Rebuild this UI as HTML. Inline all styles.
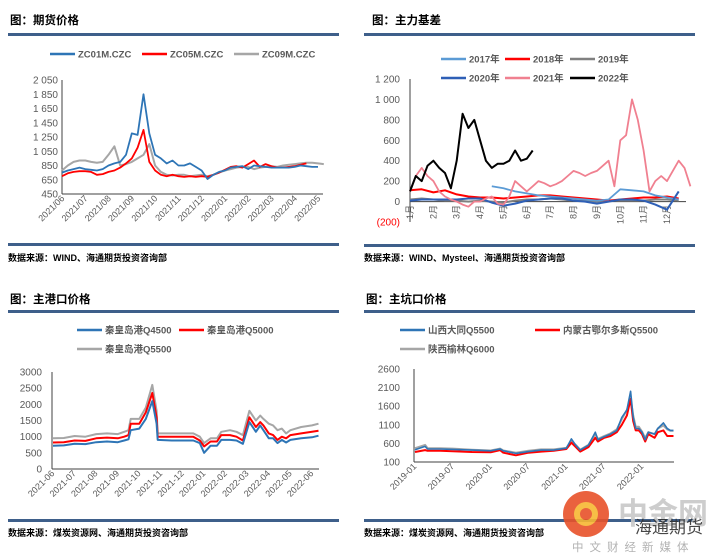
<!DOCTYPE html>
<html><head><meta charset="utf-8"><style>
html,body{margin:0;padding:0;background:#fff;}
svg{display:block;font-family:"Liberation Sans","Noto Sans CJK SC",sans-serif;}
.t{font-weight:bold;font-size:11.5px;fill:#000;font-family:"Liberation Sans","Noto Sans CJK SC",sans-serif;}
.s{font-weight:bold;font-size:9px;fill:#000;}
.lg{font-weight:bold;font-size:9.5px;fill:#595959;}
.tk{font-size:10px;fill:#595959;}
.xl{font-size:9px;fill:#595959;}
</style></head><body>
<svg id="c" width="724" height="558" viewBox="0 0 724 558">
<!-- panel titles and rules -->
<text class="t" x="10" y="24">图：期货价格</text>
<rect x="8" y="33" width="331" height="3" fill="#3e5f8a"/>
<rect x="8" y="243" width="331" height="3" fill="#3e5f8a"/>
<text class="s" x="8" y="261">数据来源：WIND、海通期货投资咨询部</text>

<text class="t" x="372" y="24">图：主力基差</text>
<rect x="364" y="33" width="331" height="3" fill="#3e5f8a"/>
<rect x="364" y="244" width="331" height="3" fill="#3e5f8a"/>
<text class="s" x="364" y="261">数据来源：WIND、Mysteel、海通期货投资咨询部</text>

<text class="t" x="10" y="303">图：主港口价格</text>
<rect x="8" y="310" width="331" height="3" fill="#3e5f8a"/>
<rect x="8" y="519" width="331" height="3" fill="#3e5f8a"/>
<text class="s" x="8" y="536">数据来源：煤炭资源网、海通期货投资咨询部</text>

<text class="t" x="366" y="303">图：主坑口价格</text>
<rect x="364" y="310" width="331" height="3" fill="#3e5f8a"/>
<rect x="364" y="519" width="331" height="3" fill="#3e5f8a"/>
<text class="s" x="364" y="536">数据来源：煤炭资源网、海通期货投资咨询部</text>
</svg>
<script>
// ---------- Panel 1 data ----------
const p1Ticks=["2 050","1 850","1 650","1 450","1 250","1 050","850","650","450"];
const p1TickVals=[2050,1850,1650,1450,1250,1050,850,650,450];
const p1XLabels=["2021/06","2021/07","2021/08","2021/09","2021/10","2021/11","2021/12","2022/01","2022/02","2022/03","2022/04","2022/05"];
const p1Names=["ZC01M.CZC","ZC05M.CZC","ZC09M.CZC"];
const p1Zc01=[750,780,800,820,800,790,780,800,850,880,900,1000,1300,1280,1850,1300,1000,950,880,920,850,850,880,830,780,660,720,760,780,820,830,840,800,850,840,830,820,820,820,820,830,850,840,830,830];
const p1Zc05=[700,740,760,770,770,760,720,730,760,780,820,880,950,1100,1350,900,780,720,700,720,700,690,700,690,700,690,720,750,790,830,840,820,870,920,830,870,840,820,820,830,840,860,880];
const p1Zc09=[780,850,900,920,920,900,890,900,1000,1120,850,870,900,950,1000,1150,850,760,720,710,720,720,700,710,720,700,720,750,780,800,820,830,830,800,820,830,840,830,850,860,870,880,890,890,880,870];
// ---------- Panel 2 data ----------
const p2Ticks=["1 200","1 000","800","600","400","200","0","(200)"];
const p2TickVals=[1200,1000,800,600,400,200,0,-200];
const p2Months=["1月","2月","3月","4月","5月","6月","7月","8月","9月","10月","11月","12月"];
const p2Names=["2017年","2018年","2019年","2020年","2021年","2022年"];
const y2017=[null,null,null,null,null,null,null,150,130,100,80,60,50,40,30,20,10,20,120,110,100,60,40,20];
const y2018=[110,120,90,110,70,50,40,40,30,40,50,60,60,50,40,30,20,10,20,30,40,40,50,30];
const y2019=[20,30,20,10,10,0,10,0,-10,10,20,20,30,20,10,10,0,10,10,10,10,20,20,10];
const y2020=[10,20,20,20,20,30,30,-10,-40,-20,10,20,30,30,10,0,-20,0,20,20,10,-30,-80,100];
const y2021=[100,250,330,250,200,100,50,20,0,-30,-50,0,0,30,50,-20,-30,50,200,150,100,150,200,180,150,170,200,250,300,280,250,280,300,350,400,150,600,650,1000,800,500,100,200,250,200,300,400,330,150];
const y2022=[100,250,200,350,400,330,280,130,400,860,720,800,600,400,330,370,370,400,500,400,420,500];
// ---------- Panel 3 data ----------
const p3Ticks=["3000","2500","2000","1500","1000","500","0"];
const p3TickVals=[3000,2500,2000,1500,1000,500,0];
const p3XLabels=["2021-06","2021-07","2021-08","2021-09","2021-10","2021-11","2021-12","2022-01","2022-02","2022-03","2022-04","2022-05","2022-06"];
const p3Names=["秦皇岛港Q4500","秦皇岛港Q5000","秦皇岛港Q5500"];
const p3Dates=[0,0.5,1,1.5,2,2.5,3,3.3,3.5,3.6,4,4.3,4.6,4.8,4.85,5.5,6,6.5,6.8,7,7.3,7.6,7.8,8.2,8.5,8.8,9.1,9.4,9.6,9.75,10,10.2,10.4,10.6,10.8,11,11.5,12,12.3];
const p3Q4500=[720,730,780,770,830,850,830,880,920,1200,1250,1550,2100,1400,900,880,880,880,800,500,720,720,900,900,880,780,1450,1150,1350,1200,950,950,800,900,820,900,950,980,1030];
const p3Q5000=[820,830,880,870,950,970,950,1000,1050,1400,1400,1750,2350,1600,1000,1000,1000,1000,880,700,850,850,1050,1050,1000,880,1600,1300,1450,1350,1100,1050,900,1000,950,1050,1100,1150,1180];
const p3Q5500=[950,960,1020,1000,1080,1100,1080,1150,1200,1550,1550,1900,2600,1800,1100,1100,1100,1100,1000,800,950,950,1150,1200,1150,1050,1800,1500,1650,1550,1400,1350,1200,1250,1100,1200,1300,1350,1400];
// ---------- Panel 4 data ----------
const p4Ticks=["2600","2100","1600","1100","600","100"];
const p4TickVals=[2600,2100,1600,1100,600,100];
const p4XLabels=["2019-01","2019-07","2020-01","2020-07","2021-01","2021-07","2022-01"];
const p4Names=["山西大同Q5500","内蒙古鄂尔多斯Q5500","陕西榆林Q6000"];
const p4Dates=[0,1.6,2,4,6,9,12,13.5,14,16,18,20,22,24,24.8,25.5,26.2,27.5,28.6,29,30,31,32,32.8,33.6,34.2,34.6,35,35.5,36,36.5,37,38,38.5,39.4,40,40.5,41];
const p4Datong=[430,520,450,450,440,420,400,450,400,330,380,420,420,470,720,550,420,550,900,700,780,850,950,1300,1500,2000,1300,1000,1000,900,700,900,850,1000,1150,1000,950,950];
const p4Ordos=[370,420,400,400,390,370,360,420,350,280,350,380,400,450,620,500,380,500,750,650,750,800,900,1100,1350,1800,1200,950,950,850,650,850,750,900,950,800,800,800];
const p4Yulin=[470,560,470,470,460,430,410,460,410,350,400,440,440,480,650,560,430,560,850,720,800,870,980,1250,1500,1800,1350,1050,1050,920,750,900,850,1000,1080,980,940,940];

const NS="http://www.w3.org/2000/svg";
const svg=document.getElementById('c');
function mk(tag,attrs,parent){const e=document.createElementNS(NS,tag);for(const k in attrs)e.setAttribute(k,attrs[k]);(parent||svg).appendChild(e);return e;}
function lin(d0,d1,r0,r1){return v=>r0+(v-d0)*(r1-r0)/(d1-d0);}
function path(xs,ys,sx,sy){let d="",pen=false;for(let i=0;i<ys.length;i++){if(ys[i]===null||ys[i]===undefined){pen=false;continue;}d+=(pen?"L":"M")+sx(xs[i]).toFixed(1)+" "+sy(ys[i]).toFixed(1);pen=true;}return d;}
function seq(n,step){const a=[];for(let i=0;i<n;i++)a.push(i*step);return a;}
function drawSeries(xs,ys,sx,sy,color,w,name){
  const p=mk('path',{d:path(xs,ys,sx,sy),fill:'none',stroke:color,'stroke-width':w,'stroke-linejoin':'round'});
  
  
}
function legend(x,y,color,label,name){
  const g=mk('g',{});
  
  
  mk('line',{x1:x,y1:y,x2:x+25,y2:y,stroke:color,'stroke-width':2.5},g);
  const t=mk('text',{x:x+28,y:y+3.5,class:'lg'},g);t.textContent=label;
}
function yTicks(vals,labels,sy,x,name,colors){
  vals.forEach((v,i)=>{const t=mk('text',{x:x,y:sy(v)+3.5,'text-anchor':'end',class:'tk',fill:(colors&&colors[i])||'#595959'});
    
    
    if(colors&&colors[i])t.style.fill=colors[i];
    t.textContent=labels[i];});
}
function xRot(labels,sx,y,name,dx){
  labels.forEach((l,i)=>{const x=sx(i);const t=mk('text',{x:x+(dx||0),y:y,'text-anchor':'end',class:'xl',transform:`rotate(-45 ${x+(dx||0)} ${y})`});
    
    
    t.textContent=l;});
}
function axes(x0,x1,y0,y1,name){
  const a=mk('path',{d:`M${x0} ${y0}L${x0} ${y1}M${x0} ${y1}L${x1} ${y1}`,stroke:'#404040','stroke-width':1,fill:'none'});
  
  
}
// ---- Panel 1 ----
{const sx=lin(0,11,62,318),sy=lin(450,2050,194,80);
 axes(62,323,80,194,'futures-axes');
 yTicks(p1TickVals,p1Ticks,sy,58,'futures-y-tick');
 xRot(p1XLabels,i=>sx(i),199,'futures-x-tick',3);
 drawSeries(seq(p1Zc09.length,0.25),p1Zc09,sx,sy,'#a6a6a6',2,'zc09-line');
 drawSeries(seq(p1Zc05.length,0.25),p1Zc05,sx,sy,'#ff0000',1.8,'zc05-line');
 drawSeries(seq(p1Zc01.length,0.25),p1Zc01,sx,sy,'#2e75b6',1.8,'zc01-line');
 legend(50,54,'#2e75b6',p1Names[0],'legend-zc01');
 legend(142,54,'#ff0000',p1Names[1],'legend-zc05');
 legend(234,54,'#a6a6a6',p1Names[2],'legend-zc09');
}
// ---- Panel 2 ----
{const sx=lin(0,11,410,667),sy=lin(-200,1200,222,79);
 const a=mk('path',{d:`M410 79L410 222M410 ${sy(0)}L686 ${sy(0)}`,stroke:'#404040','stroke-width':1,fill:'none'});
 
 
 yTicks(p2TickVals,p2Ticks,sy,400,'basis-y-tick',[0,0,0,0,0,0,0,'#ff0000'].map(c=>c||null));
 p2Months.forEach((m,i)=>{const x=sx(i);const t=mk('text',{x:x+3,y:205,'text-anchor':'end',class:'xl',transform:`rotate(-90 ${x+3} 205)`});
   
   
   t.textContent=m;});
 drawSeries(seq(24,0.5),y2019,sx,sy,'#808080',2,'basis-2019-line');
 drawSeries(seq(24,0.5),y2018,sx,sy,'#ff0000',2,'basis-2018-line');
 drawSeries(seq(24,0.5),y2017,sx,sy,'#5b9bd5',1.8,'basis-2017-line');
 drawSeries(seq(24,0.5),y2020,sx,sy,'#2e5fb6',2,'basis-2020-line');
 drawSeries(seq(y2021.length,0.25),y2021,sx,sy,'#f08090',1.8,'basis-2021-line');
 drawSeries(seq(y2022.length,0.25),y2022,sx,sy,'#000000',2,'basis-2022-line');
 legend(441,59,'#5b9bd5',p2Names[0],'legend-2017');
 legend(505,59,'#ff0000',p2Names[1],'legend-2018');
 legend(570,59,'#808080',p2Names[2],'legend-2019');
 legend(441,78,'#2e5fb6',p2Names[3],'legend-2020');
 legend(505,78,'#f08090',p2Names[4],'legend-2021');
 legend(570,78,'#000000',p2Names[5],'legend-2022');
}
// ---- Panel 3 ----
{const sx=lin(0,12,53,312),sy=lin(0,3000,469,372);
 axes(52,319,372,469,'port-axes');
 yTicks(p3TickVals,p3Ticks,sy,42,'port-y-tick');
 xRot(p3XLabels,i=>sx(i),474,'port-x-tick',2);
 drawSeries(p3Dates,p3Q5500,sx,sy,'#a6a6a6',2,'q5500-line');
 drawSeries(p3Dates,p3Q5000,sx,sy,'#ff0000',2,'q5000-line');
 drawSeries(p3Dates,p3Q4500,sx,sy,'#2e75b6',2,'q4500-line');
 legend(77,330,'#2e75b6',p3Names[0],'legend-q4500');
 legend(179,330,'#ff0000',p3Names[1],'legend-q5000');
 legend(77,349,'#a6a6a6',p3Names[2],'legend-q5500');
}
// ---- Panel 4 ----
{const sx=lin(0,36,415,642),sy=lin(100,2600,462,369);
 axes(414,674,369,462,'mine-axes');
 yTicks(p4TickVals,p4Ticks,sy,400,'mine-y-tick');
 xRot(p4XLabels,i=>sx(i*6),467,'mine-x-tick',2);
 drawSeries(p4Dates,p4Yulin,sx,sy,'#a6a6a6',2,'yulin-line');
 drawSeries(p4Dates,p4Ordos,sx,sy,'#ff0000',2,'ordos-line');
 drawSeries(p4Dates,p4Datong,sx,sy,'#2e75b6',1.6,'datong-line');
 legend(400,330,'#2e75b6',p4Names[0],'legend-datong');
 legend(535,330,'#ff0000',p4Names[1],'legend-ordos');
 legend(400,349,'#a6a6a6',p4Names[2],'legend-yulin');
}
// ---- watermark ----
{const g=mk('g',{opacity:0.9});
 
 
 mk('circle',{cx:586,cy:514,r:23,fill:'#e8522a'},g);
 mk('circle',{cx:586,cy:514,r:12,fill:'#f7b733'},g);
 mk('circle',{cx:586,cy:514,r:6,fill:'#e8522a'},g);
 let t=mk('text',{x:618,y:524,'font-size':30,'font-weight':'bold',fill:'#c8c8c8','font-family':'"Noto Sans CJK SC",sans-serif'},g);t.textContent='中金网';
 t=mk('text',{x:635,y:533,'font-size':17,fill:'#333','font-family':'"Noto Sans CJK SC",sans-serif'},g);t.textContent='海通期货';
 t=mk('text',{x:572,y:551,'font-size':11.5,fill:'#aaa','letter-spacing':'6','font-family':'"Noto Sans CJK SC",sans-serif'},g);t.textContent='中文财经新媒体';
}
</script>
</body></html>
